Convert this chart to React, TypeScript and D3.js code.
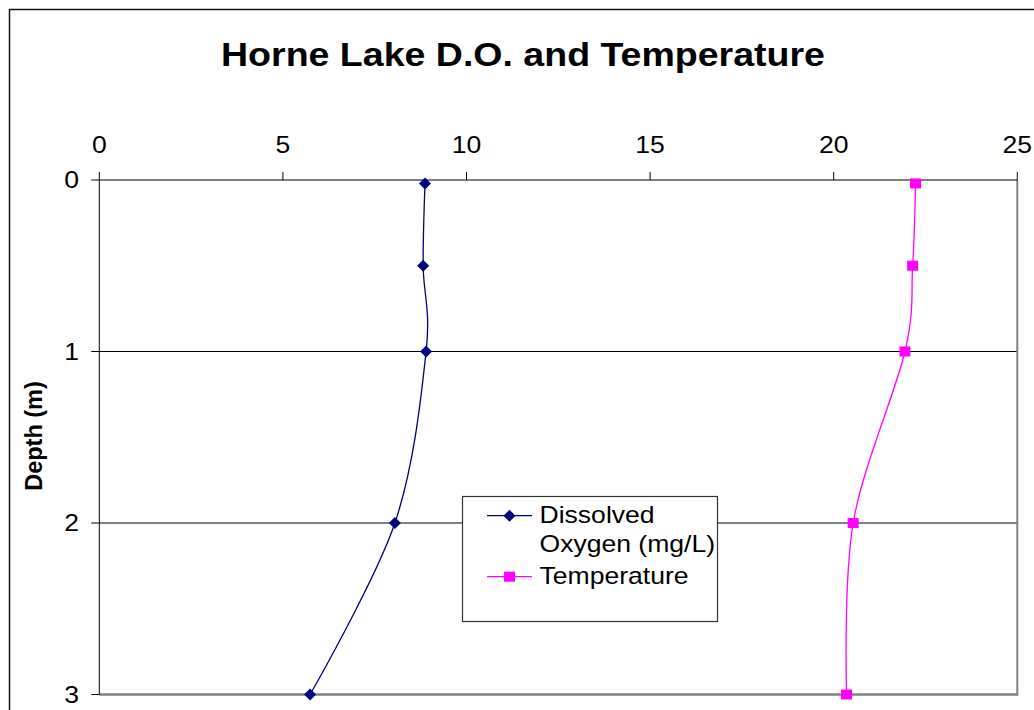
import React from "react";
import * as d3 from "d3";

const depths = [0.02, 0.5, 1, 2, 3];
const dissolvedOxygen = [8.87, 8.82, 8.9, 8.05, 5.74];
const temperature = [22.23, 22.15, 21.94, 20.53, 20.35];
const xTicks = [0, 5, 10, 15, 20, 25];
const yTicks = [0, 1, 2, 3];
const seriesNames = ["Dissolved", "Oxygen (mg/L)", "Temperature"];

const W = 1034;
const H = 710;
const left = 99.3;
const right = 1017.3;
const top = 180;
const bottom = 694.5;
const SX = 1.155;

function T(props: {
  x: number;
  y: number;
  size: number;
  bold?: boolean;
  anchor?: "start" | "middle" | "end";
  children: React.ReactNode;
}) {
  return (
    <text
      transform={`translate(${props.x},${props.y}) scale(${SX},1)`}
      textAnchor={props.anchor || "start"}
      fontSize={props.size}
      fontWeight={props.bold ? "bold" : "normal"}
      fill="#000"
    >
      {props.children}
    </text>
  );
}

export default function App() {
  const x = d3.scaleLinear().domain([0, 25]).range([left, right]);
  const y = d3.scaleLinear().domain([0, 3]).range([top, bottom]);
  const line = d3
    .line<[number, number]>()
    .x((d) => x(d[0]))
    .y((d) => y(d[1]))
    .curve(d3.curveCatmullRom.alpha(0));
  const doPts: [number, number][] = depths.map((dp, i) => [dissolvedOxygen[i], dp]);
  const tPts: [number, number][] = depths.map((dp, i) => [temperature[i], dp]);
  const font = "Arial, 'Liberation Sans', sans-serif";
  const diamond = (cx: number, cy: number, r: number) =>
    `M${cx},${cy - r}L${cx + r},${cy}L${cx},${cy + r}L${cx - r},${cy}Z`;

  return (
    <svg
      width={W}
      height={H}
      style={{ position: "absolute", left: 0, top: 0, background: "#fff" }}
      fontFamily={font}
    >
      <rect x={0} y={0} width={W} height={H} fill="#fff" />
      <rect x={9.5} y={9.5} width={1100} height={800} fill="none" stroke="#111" strokeWidth={1.5} />
      <T x={523} y={66} size={32.5} bold anchor="middle">
        Horne Lake D.O. and Temperature
      </T>
      {yTicks.slice(1, 3).map((t) => (
        <line key={"g" + t} x1={left} x2={right} y1={y(t)} y2={y(t)} stroke="#000" strokeWidth={1} />
      ))}
      <line x1={right} x2={right} y1={top} y2={bottom} stroke="#808080" strokeWidth={2} />
      <line x1={left} x2={right + 1} y1={bottom} y2={bottom} stroke="#808080" strokeWidth={2.5} />
      <line x1={left} x2={right} y1={top} y2={top} stroke="#000" strokeWidth={1} />
      <line x1={left} x2={left} y1={top} y2={bottom} stroke="#000" strokeWidth={1} />
      {xTicks.map((t) => (
        <g key={"x" + t}>
          <line x1={x(t)} x2={x(t)} y1={top - 8} y2={top} stroke="#000" strokeWidth={1} />
          <T x={x(t)} y={153} size={23} anchor="middle">
            {t}
          </T>
        </g>
      ))}
      {yTicks.map((t) => (
        <g key={"y" + t}>
          <line x1={left - 8} x2={left} y1={y(t)} y2={y(t)} stroke="#000" strokeWidth={1} />
          <T x={79} y={y(t) + 8.3} size={23} anchor="end">
            {t}
          </T>
        </g>
      ))}
      <text
        transform={`translate(42,436) rotate(-90)`}
        textAnchor="middle"
        fontSize={23.5}
        fontWeight="bold"
        fill="#000"
      >
        Depth (m)
      </text>
      <path d={line(doPts) || ""} fill="none" stroke="#000080" strokeWidth={1.3} />
      <path d={line(tPts) || ""} fill="none" stroke="#FF00FF" strokeWidth={1.3} />
      {doPts.map((p, i) => (
        <path key={"dm" + i} d={diamond(x(p[0]), y(p[1]), 6)} fill="#000080" />
      ))}
      {tPts.map((p, i) => (
        <rect key={"tm" + i} x={x(p[0]) - 5.5} y={y(p[1]) - 5} width={11} height={10} fill="#FF00FF" />
      ))}
      <rect x={462.5} y={496.5} width={255} height={125} fill="#fff" stroke="#333" strokeWidth={1.2} />
      <line x1={487} x2={532} y1={515.7} y2={515.7} stroke="#000080" strokeWidth={1.3} />
      <path d={diamond(509.5, 515.7, 6)} fill="#000080" />
      <line x1={487} x2={532} y1={576.7} y2={576.7} stroke="#FF00FF" strokeWidth={1.3} />
      <rect x={504} y={571.7} width={11} height={10} fill="#FF00FF" />
      <T x={539.5} y={523.3} size={23}>
        {seriesNames[0]}
      </T>
      <T x={539.5} y={552} size={23}>
        {seriesNames[1]}
      </T>
      <T x={539.5} y={584.3} size={23}>
        {seriesNames[2]}
      </T>
    </svg>
  );
}
